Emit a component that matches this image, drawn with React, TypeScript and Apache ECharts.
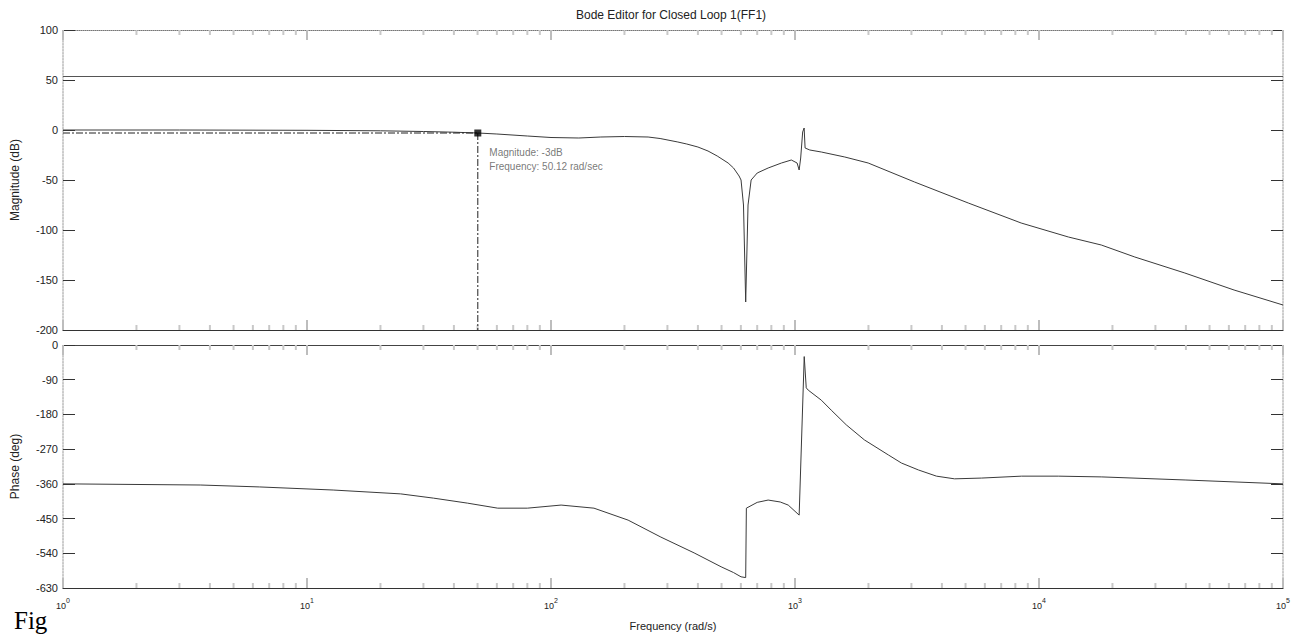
import React, { useEffect, useRef } from "react";
import * as echarts from "echarts";

const titleText = "Bode Editor for Closed Loop 1(FF1)";
const magAxisName = "Magnitude (dB)";
const phaseAxisName = "Phase (deg)";
const freqAxisName = "Frequency (rad/s)";
const captionText = "Fig";

// Magnitude response (rad/s, dB)
const magFreq = [1, 3, 10, 20, 30, 40, 50.12, 60, 80, 100, 130, 160, 200, 250, 280, 331, 360, 400, 440, 480, 532, 560, 590, 601, 615, 628, 642, 661, 700, 776, 880, 966, 1020, 1040, 1055, 1075, 1090, 1100, 1150, 1282, 1600, 1995, 3090, 5130, 8450, 13200, 18000, 24700, 39600, 63000, 100000];
const magDb = [0, 0, -0.3, -0.8, -1.5, -2.2, -3, -4, -6, -7.5, -8, -7, -6.5, -7, -8.5, -12, -14, -17, -21, -26, -33, -38, -46, -50, -75, -172, -75, -50, -43, -38, -33, -30, -33, -40, -28, -2, 2, -18, -20, -22, -27, -33, -52, -73, -93, -107, -115, -127, -143, -160, -175];

// Phase response (rad/s, deg)
const phaseFreq = [1, 3.65, 6.4, 12.8, 24.2, 33, 45.5, 60.5, 80, 110, 150, 207, 282, 386, 498, 560, 601, 628, 632, 700, 776, 870, 938, 1040, 1091, 1112, 1133, 1282, 1408, 1622, 1924, 2413, 2730, 3206, 3800, 4506, 5810, 8490, 12000, 18080, 40000, 100000];
const phaseDeg = [-360, -363, -368, -376, -386, -397, -410, -423, -423, -415, -423, -454, -498, -539, -575, -590, -601, -603, -423, -408, -402, -407, -415, -441, -30, -111, -117, -143, -169, -207, -246, -285, -306, -324, -340, -347, -345, -340, -340, -342, -350, -360];

const refLevelDb = 54;
const markerFreq = 50.12;
const markerDb = -3;
const markerLabel = ["Magnitude: -3dB", "Frequency: 50.12 rad/sec"];

const freqMin = 1;
const freqMax = 100000;
const magMin = -200;
const magMax = 100;
const magStep = 50;
const phaseMin = -630;
const phaseMax = 0;
const phaseStep = 90;
const decadeExps = [0, 1, 2, 3, 4];
const minorMultipliers = [2, 3, 4, 5, 6, 7, 8, 9];

const FONT = "'Liberation Sans', Arial, sans-serif";

export default function App() {
  const ref = useRef<HTMLDivElement>(null);

  useEffect(() => {
    const chart = echarts.init(ref.current!, null, { renderer: "svg" });

    const magData = magFreq.map((f, i) => [f, magDb[i]]);
    const phaseData = phaseFreq.map((f, i) => [f, phaseDeg[i]]);
    const minorTicks = decadeExps.flatMap((d) => minorMultipliers.map((m) => m * Math.pow(10, d)));

    const tickRender = (len: number) => (params: any, api: any) => {
      const cs = params.coordSys;
      const x = api.coord([api.value(0), api.value(1)])[0];
      return {
        type: "group",
        children: [
          { type: "rect", shape: { x: x - 1, y: cs.y, width: 2, height: len }, style: { fill: "#c8c8c8" } },
          { type: "rect", shape: { x: x - 1, y: cs.y + cs.height - len, width: 2, height: len }, style: { fill: "#c8c8c8" } },
        ],
      };
    };

    const logAxis = (gridIndex: number, position: string, lineColor: string, lineType: string, labels: boolean) => ({
      type: "log",
      logBase: 10,
      gridIndex,
      position,
      min: freqMin,
      max: freqMax,
      splitNumber: 5,
      axisLine: { show: true, onZero: false, lineStyle: { color: lineColor, type: lineType, width: 1 } },
      axisTick: { show: true, inside: true, length: 10, lineStyle: { color: "#bdbdbd", width: 2 } },
      splitLine: { show: false },
      minorTick: { show: false },
      axisLabel: labels
        ? {
            show: true,
            margin: 8,
            formatter: (v: number) => "{a|10}{b|" + Math.round(Math.log10(v)) + "}",
            rich: {
              a: { fontSize: 9, fontFamily: FONT, color: "#222", padding: [5, 0, 0, 0] },
              b: { fontSize: 7, fontFamily: FONT, color: "#222", padding: [0, 0, 5, 0] },
            },
          }
        : { show: false },
      name: labels ? freqAxisName : "",
      nameLocation: "middle",
      nameGap: 32,
      nameTextStyle: { fontSize: 11, fontFamily: FONT, color: "#222" },
    });

    const valAxis = (gridIndex: number, position: string, min: number, max: number, interval: number, name: string) => ({
      type: "value",
      gridIndex,
      position,
      min,
      max,
      interval,
      axisLine: { show: true, onZero: false, lineStyle: { color: "#bbbbbb", type: "dotted", width: 1.5 } },
      axisTick: { show: true, inside: true, length: 12, lineStyle: { color: "#333", width: 1 } },
      splitLine: { show: false },
      axisLabel: position === "left" ? { show: true, margin: 5, fontSize: 11, fontFamily: FONT, color: "#222" } : { show: false },
      name,
      nameLocation: "middle",
      nameGap: 42,
      nameTextStyle: { fontSize: 12, fontFamily: FONT, color: "#222" },
    });

    const dashDot = { color: "#222", width: 1, type: [7, 2, 2, 2] };

    const option: any = {
      animation: false,
      backgroundColor: "#ffffff",
      grid: [
        { left: 63, right: 20, top: 30, height: 300, containLabel: false, outerBoundsMode: "none" },
        { left: 63, right: 20, top: 345, height: 243, containLabel: false, outerBoundsMode: "none" },
      ],
      xAxis: [
        logAxis(0, "bottom", "#333", "solid", false),
        logAxis(0, "top", "#777", "dotted", false),
        logAxis(1, "bottom", "#333", "solid", true),
        logAxis(1, "top", "#444", "solid", false),
      ],
      yAxis: [
        valAxis(0, "left", magMin, magMax, magStep, magAxisName),
        valAxis(0, "right", magMin, magMax, magStep, ""),
        valAxis(1, "left", phaseMin, phaseMax, phaseStep, phaseAxisName),
        valAxis(1, "right", phaseMin, phaseMax, phaseStep, ""),
      ],
      graphic: [
        {
          type: "text",
          x: 671,
          y: 15,
          style: { text: titleText, textAlign: "center", textVerticalAlign: "middle", fontSize: 12, fontFamily: FONT, fill: "#222" },
        },
        {
          type: "text",
          x: 14,
          y: 608,
          style: { text: captionText, textAlign: "left", textVerticalAlign: "top", fontSize: 25, fontFamily: "'Liberation Serif', 'Times New Roman', serif", fill: "#000" },
        },
      ],
      series: [
        {
          type: "custom",
          xAxisIndex: 0,
          yAxisIndex: 0,
          silent: true,
          z: 1,
          renderItem: tickRender(5),
          data: minorTicks.map((f) => [f, 0]),
        },
        {
          type: "custom",
          xAxisIndex: 2,
          yAxisIndex: 2,
          silent: true,
          z: 1,
          renderItem: tickRender(5),
          data: minorTicks.map((f) => [f, -300]),
        },
        {
          name: "Magnitude",
          type: "line",
          xAxisIndex: 0,
          yAxisIndex: 0,
          data: magData,
          showSymbol: false,
          symbol: "none",
          lineStyle: { color: "#3a3a3a", width: 1 },
          z: 3,
          markLine: {
            silent: true,
            symbol: ["none", "none"],
            label: { show: false },
            lineStyle: { color: "#555", width: 1, type: "solid" },
            data: [{ yAxis: refLevelDb }],
          },
        },
        {
          type: "line",
          xAxisIndex: 0,
          yAxisIndex: 0,
          data: [[freqMin, markerDb], [markerFreq, markerDb]],
          showSymbol: false,
          symbol: "none",
          lineStyle: dashDot,
          z: 4,
        },
        {
          type: "line",
          xAxisIndex: 0,
          yAxisIndex: 0,
          data: [[markerFreq, markerDb], [markerFreq, magMin]],
          showSymbol: false,
          symbol: "none",
          lineStyle: dashDot,
          z: 4,
        },
        {
          type: "scatter",
          xAxisIndex: 0,
          yAxisIndex: 0,
          data: [[markerFreq, markerDb]],
          symbol: "rect",
          symbolSize: 7,
          itemStyle: { color: "#000" },
          z: 5,
          label: {
            show: true,
            position: [15, 16],
            align: "left",
            verticalAlign: "top",
            formatter: markerLabel.join("\n"),
            fontSize: 10,
            lineHeight: 14,
            fontFamily: FONT,
            color: "#555",
          },
        },
        {
          name: "Phase",
          type: "line",
          xAxisIndex: 2,
          yAxisIndex: 2,
          data: phaseData,
          showSymbol: false,
          symbol: "none",
          lineStyle: { color: "#3a3a3a", width: 1 },
          z: 3,
        },
      ],
    };

    chart.setOption(option);
    return () => chart.dispose();
  }, []);

  return (
    <div
      ref={ref}
      style={{ position: "fixed", left: 0, top: 0, width: 1303, height: 635, background: "#fff" }}
    />
  );
}
